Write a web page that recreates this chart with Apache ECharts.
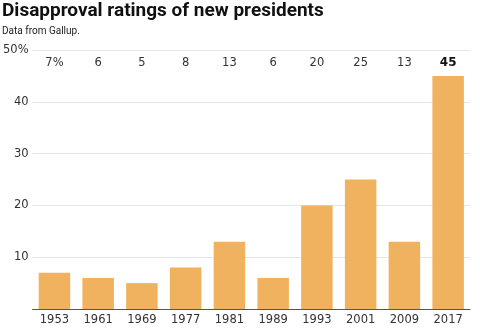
<!DOCTYPE html>
<html>
<head>
<meta charset="utf-8">
<script src="https://cdn.jsdelivr.net/npm/echarts@6/dist/echarts.min.js"></script>
<style>
  html, body { margin: 0; padding: 0; background: #fff; }
  #chart { width: 480px; height: 328px; }
</style>
</head>
<body>
<div id="chart"></div>
<script>
// Inauguration years of each new president
const years = ['1953', '1961', '1969', '1977', '1981', '1989', '1993', '2001', '2009', '2017'];
// Disapproval (%) shortly after taking office
const disapproval = [7, 6, 5, 8, 13, 6, 20, 25, 13, 45];
// Value labels printed in a row along the top of the plot
const topLabels = ['7%', '6', '5', '8', '13', '6', '20', '25', '13', '45'];
// Y-axis tick labels
const yTicks = { 0: '', 10: '10', 20: '20', 30: '30', 40: '40', 50: '50%' };

const chart = echarts.init(document.getElementById('chart'));
const textColor = '#333';
const titleFont = 'Roboto, "Liberation Sans", sans-serif';
const tickFont = '"DejaVu Sans", "Liberation Sans", sans-serif';

chart.setOption({
  animation: false,
  title: {
    text: 'Disapproval ratings of new presidents',
    subtext: 'Data from Gallup.',
    left: 0,
    top: 0,
    padding: [0, 2],
    itemGap: 4,
    textStyle: { fontFamily: titleFont, fontSize: 19, fontWeight: 'bold', color: '#111', lineHeight: 22 },
    subtextStyle: { fontFamily: titleFont, fontSize: 10, color: '#222' }
  },
  grid: { left: 29, right: 10, top: 50, bottom: 19, containLabel: false },
  xAxis: [
    {
      type: 'category',
      data: years,
      position: 'bottom',
      axisLine: { show: true, lineStyle: { color: '#555', width: 1 } },
      axisTick: { show: false },
      axisLabel: { interval: 0, color: textColor, fontFamily: tickFont, fontSize: 11.5, margin: 5 }
    },
    {
      type: 'category',
      data: topLabels,
      position: 'top',
      axisLine: { show: false },
      axisTick: { show: false },
      axisLabel: {
        inside: true,
        interval: 0,
        hideOverlap: false,
        margin: 7,
        color: textColor,
        fontFamily: tickFont,
        fontSize: 11.5,
        formatter: (v, i) => i === topLabels.length - 1 ? '{b|' + v + '}' : v,
        rich: { b: { fontWeight: 'bold', fontSize: 12, color: '#111', fontFamily: tickFont } }
      }
    }
  ],
  yAxis: {
    type: 'value',
    min: 0,
    max: 50,
    interval: 10,
    axisLine: { show: false },
    axisTick: { show: false },
    splitLine: { lineStyle: { color: '#e6e6e6', width: 1 } },
    axisLabel: {
      color: textColor,
      fontFamily: tickFont,
      fontSize: 11.5,
      margin: 4,
      formatter: v => yTicks[v]
    }
  },
  series: [{
    type: 'bar',
    data: disapproval,
    xAxisIndex: 0,
    barWidth: '72%',
    itemStyle: { color: '#f0b25e' }
  }]
});
</script>
</body>
</html>
